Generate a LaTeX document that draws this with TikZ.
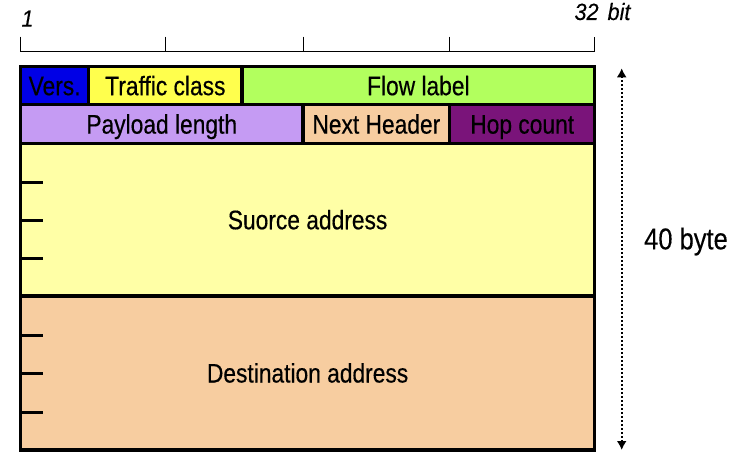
\documentclass[tikz,border=0pt]{standalone}
\usepackage{fontspec}
\setmainfont{Liberation Sans}
\newfontfamily\fieldfont[FakeStretch=0.85,FakeBold=0.4]{Liberation Sans}
\newfontfamily\bigfont[FakeStretch=0.85,FakeBold=0.3]{Liberation Sans}
\newfontfamily\italfont[FakeStretch=0.92,FakeBold=0.3]{Liberation Sans}
\usetikzlibrary{arrows.meta}
\definecolor{versblue}{RGB}{0,0,230}
\definecolor{trafficyellow}{RGB}{255,255,77}
\definecolor{flowgreen}{RGB}{178,255,94}
\definecolor{payloadlav}{RGB}{197,155,243}
\definecolor{nextpeach}{RGB}{247,205,160}
\definecolor{hoppurple}{RGB}{122,20,122}
\definecolor{srcyellow}{RGB}{255,255,166}
\definecolor{dstpeach}{RGB}{247,205,160}
\begin{document}
\begin{tikzpicture}[x=1pt,y=-1pt,
  field/.style={draw=black, line width=3.2pt, anchor=north west, inner sep=0pt, outer sep=0pt,
    text height=19pt, text depth=0pt, font=\fieldfont\fontsize{26.8}{30}\selectfont},
  addrtick/.style={line width=3pt},
  ruler/.style={line width=1.3pt},
  bitlabel/.style={anchor=base, inner sep=0pt, font=\italfont\itshape\fontsize{23.5}{27}\selectfont},
  sizearrow/.style={line width=2pt, dash pattern=on 2pt off 2pt,
    {Latex[length=9pt,width=10pt]}-{Latex[length=9pt,width=10pt]}}
]
\useasboundingbox (0,0) rectangle (738,468);

% ruler
\draw[ruler] (20.5,36.7) -- (20.5,51.7) -- (594.3,51.7) -- (594.3,36.7);
\foreach \tx in {165.7,303.3,449.3} \draw[ruler] (\tx,36.7) -- (\tx,51.7);
\node[bitlabel] (one) at (27.5,26.7) {1};
\node[bitlabel] (thirtytwo) at (602.5,20) {32\hspace{3pt} bit};

% fields
\node[field, fill=versblue, minimum width=68.2pt, minimum height=38pt] (vers) at (20.5,66.7) {Vers.};
\node[field, fill=trafficyellow, minimum width=153.3pt, minimum height=38pt] (traffic) at (88.7,66.7) {Traffic class};
\node[field, fill=flowgreen, minimum width=352.7pt, minimum height=38pt] (flow) at (242,66.7) {Flow label};
\node[field, fill=payloadlav, minimum width=282.5pt, minimum height=38.8pt] (payload) at (20.5,104.7) {Payload length};
\node[field, fill=nextpeach, minimum width=146.7pt, minimum height=38.8pt] (next) at (303,104.7) {Next Header};
\node[field, fill=hoppurple, minimum width=145pt, minimum height=38.8pt] (hop) at (449.7,104.7) {Hop count};
\node[field, fill=srcyellow, minimum width=574.2pt, minimum height=152.5pt] (src) at (20.5,143.5) {Suorce address};
\node[field, fill=dstpeach, minimum width=574.2pt, minimum height=154pt] (dst) at (20.5,296) {Destination address};

% address ticks
\foreach \ty in {182,220.3,258.7,335.3,373.7,412} \draw[addrtick] (20.5,\ty) -- (43.3,\ty);

% size arrow
\coordinate (atop) at (621.7,68.3);
\coordinate (abot) at (621.7,450);
\draw[sizearrow] (atop) -- (abot);
\node[anchor=base, inner sep=0pt, font=\bigfont\fontsize{30}{34}\selectfont] (size) at (686,249.3) {40 byte};
\end{tikzpicture}
\end{document}
